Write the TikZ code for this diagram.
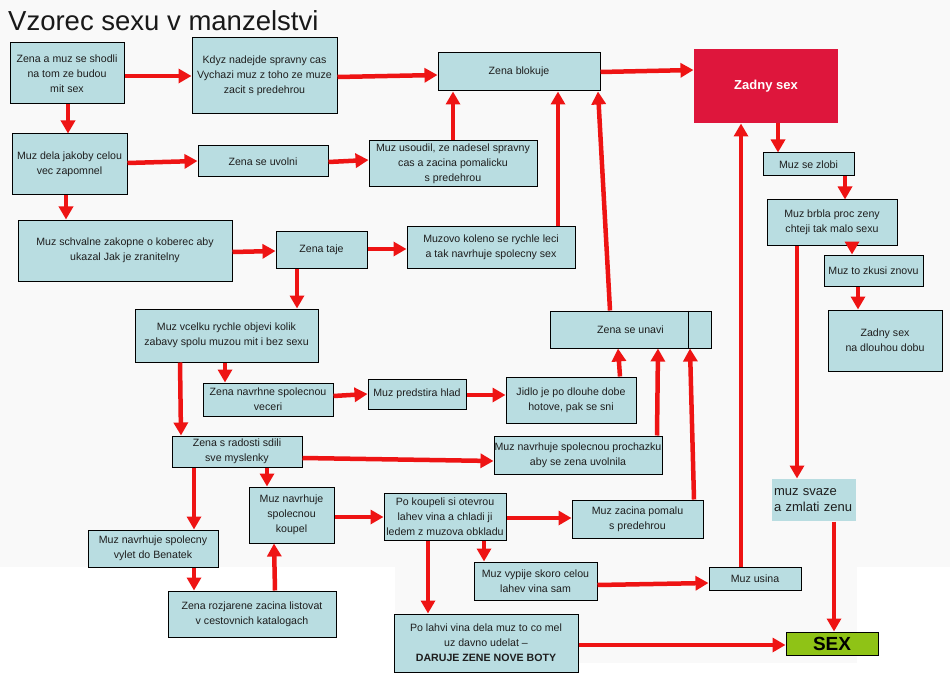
\documentclass[tikz,border=0pt]{standalone}
\usepackage{fontspec}
\setmainfont{Liberation Sans}
\usetikzlibrary{arrows.meta}
\definecolor{boxfill}{RGB}{185,221,225}
\definecolor{arrred}{RGB}{238,20,20}
\definecolor{redbox}{RGB}{222,22,60}
\definecolor{sexgreen}{RGB}{143,195,22}
\definecolor{bgg}{RGB}{249,249,249}
\definecolor{txt}{RGB}{30,30,30}
\tikzset{
  box/.style={draw=black, line width=1pt, fill=boxfill, inner sep=0pt, align=center,
    text=txt, font=\fontsize{10.6}{15}\selectfont},
  arr/.style={draw=arrred, line width=4.5pt, -{Triangle[length=13pt,width=14pt]}},
}
\newcommand\mybox[7][]{\node[box,#1, minimum width={#5-#3}, minimum height={#6-#4}] (#2) at ({(#3+#5)/2},{(#4+#6)/2}) {#7};}
\begin{document}
\begin{tikzpicture}[x=1pt,y=-1pt]
\useasboundingbox (0,0) rectangle (950,679);
\fill[white] (0,0) rectangle (950,679);
\fill[bgg] (0,0) rectangle (950,567);
\fill[bgg] (395,567) rectangle (857,663);
\node[anchor=base west, font=\fontsize{27.5}{30}\selectfont, text=black!90, inner sep=0pt] (title) at (8,31) {Vzorec sexu v manzelstvi};

\mybox{n1}{10}{43}{124}{104}{Zena a muz se shodli\\na tom ze budou\\mit sex}
\mybox{n2}{192}{38}{337}{114}{Kdyz nadejde spravny cas\\Vychazi muz z toho ze muze\\zacit s predehrou}
\mybox{n3}{438}{53}{600}{91}{Zena blokuje}
\mybox[fill=redbox, draw=none, text=white, font=\bfseries\fontsize{13}{15}\selectfont]{n4}{694}{49}{838}{123}{Zadny sex}
\mybox{n5}{12}{134}{127}{195}{Muz dela jakoby celou\\vec zapomnel}
\mybox{n6}{198}{146}{328}{177}{Zena se uvolni}
\mybox{n7}{369}{141}{537}{187}{Muz usoudil, ze nadesel spravny\\cas a zacina pomalicku\\s predehrou}
\mybox{n8}{763}{153}{854}{176}{Muz se zlobi}
\mybox{n9}{767}{200}{897}{245}{Muz brbla proc zeny\\chteji tak malo sexu}
\mybox{n10}{18}{220}{232}{281}{Muz schvalne zakopne o koberec aby\\ukazal Jak je zranitelny}
\mybox{n11}{276}{231}{367}{268}{Zena taje}
\mybox{n12}{407}{226}{575}{268}{Muzovo koleno se rychle leci\\a tak navrhuje spolecny sex}
\mybox{n13}{824}{255}{923}{286}{Muz to zkusi znovu}
\mybox{n14}{828}{310}{942}{371}{Zadny sex\\na dlouhou dobu}
\mybox{n15}{550}{311}{711}{348}{Zena se unavi}
\draw[line width=1pt] (n15.north -| 688,0) -- (n15.south -| 688,0);
\mybox{n16}{135}{309}{318}{362}{Muz vcelku rychle objevi kolik\\zabavy spolu muzou mit i bez sexu}
\mybox{n17}{203}{383}{333}{416}{Zena navrhne spolecnou\\veceri}
\mybox{n18}{368}{379}{466}{409}{Muz predstira hlad}
\mybox{n19}{506}{377}{636}{423}{Jidlo je po dlouhe dobe\\hotove, pak se sni}
\mybox{n20}{172}{436}{302}{467}{Zena s radosti sdili\\sve myslenky}
\mybox{n21}{494}{436}{662}{474}{Muz navrhuje spolecnou prochazku\\aby se zena uvolnila}
\mybox{n22}{249}{487}{334}{543}{Muz navrhuje\\spolecnou\\koupel}
\mybox{n23}{384}{493}{506}{540}{Po koupeli si otevrou\\lahev vina a chladi ji\\ledem z muzova obkladu}
\mybox{n24}{572}{500}{703}{538}{Muz zacina pomalu\\s predehrou}
\mybox[draw=none, align=left, text width=80pt, inner xsep=2pt, font=\fontsize{13}{16}\selectfont]{n25}{772}{479}{856}{521}{muz svaze\\a zmlati zenu}
\mybox{n26}{88}{530}{218}{567}{Muz navrhuje spolecny\\vylet do Benatek}
\mybox{n27}{474}{562}{597}{600}{Muz vypije skoro celou\\lahev vina sam}
\mybox{n28}{709}{567}{801}{590}{Muz usina}
\mybox{n29}{168}{591}{336}{637}{Zena rozjarene zacina listovat\\v cestovnich katalogach}
\mybox{n30}{394}{614}{578}{672}{Po lahvi vina dela muz to co mel\\uz davno udelat –\\\textbf{DARUJE ZENE NOVE BOTY}}
\mybox[fill=sexgreen, text=black, font=\bfseries\fontsize{19}{20}\selectfont]{n31}{786}{632}{878}{655}{SEX}

\draw[arr] (n1.east |- 0,76) -- (n2.west |- 0,76);
\draw[arr] (n1.south -| 68,0) -- (n5.north -| 68,0);
\draw[arr] (n2.east |- 0,77) -- (n3.west |- 0,75);
\draw[arr] (n3.east |- 0,72) -- (n4.west |- 0,70);
\draw[arr] (n5.east |- 0,163) -- (n6.west |- 0,161);
\draw[arr] (n5.south -| 66,0) -- (n10.north -| 66,0);
\draw[arr] (n6.east |- 0,162) -- (n7.west |- 0,160);
\draw[arr] (n7.north -| 453,0) -- (n3.south -| 453,0);
\draw[arr] (n10.east |- 0,252) -- (n11.west |- 0,251);
\draw[arr] (n11.east |- 0,249) -- (n12.west |- 0,249);
\draw[arr] (n11.south -| 297,0) -- (n16.north -| 297,0);
\draw[arr] (n12.north -| 558,0) -- (n3.south -| 558,0);
\draw[arr] (n15.north -| 610,0) -- (n3.south -| 598,0);
\draw[arr] (n28.north -| 741,0) -- (n4.south -| 741,0);
\draw[arr] (n4.south -| 778,0) -- (n8.north -| 778,0);
\draw[arr] (n8.south -| 845,0) -- (n9.north -| 845,0);
\draw[arr] (n9.south -| 852,0) -- (n13.north -| 852,0);
\draw[arr] (n13.south -| 858,0) -- (n14.north -| 858,0);
\draw[arr] (n9.south -| 797,0) -- (n25.north -| 797,0);
\draw[arr] (n25.south -| 834,0) -- (n31.north -| 834,0);
\draw[arr] (n16.south -| 180,0) -- (n20.north -| 181,0);
\draw[arr] (n16.south -| 225,0) -- (n17.north -| 225,0);
\draw[arr] (n17.east |- 0,396) -- (n18.west |- 0,394);
\draw[arr] (n18.east |- 0,395) -- (n19.west |- 0,395);
\draw[arr] (n19.north -| 620,0) -- (n15.south -| 618,0);
\draw[arr] (n21.north -| 657,0) -- (n15.south -| 658,0);
\draw[arr] (n24.north -| 694,0) -- (n15.south -| 690,0);
\draw[arr] (n20.east |- 0,458) -- (n21.west |- 0,461);
\draw[arr] (n20.south -| 267,0) -- (n22.north -| 267,0);
\draw[arr] (n20.south -| 194,0) -- (n26.north -| 194,0);
\draw[arr] (n26.south -| 194,0) -- (n29.north -| 194,0);
\draw[arr] (n29.north -| 275,0) -- (n22.south -| 274,0);
\draw[arr] (n22.east |- 0,517) -- (n23.west |- 0,517);
\draw[arr] (n23.east |- 0,518) -- (n24.west |- 0,518);
\draw[arr] (n23.south -| 484,0) -- (n27.north -| 484,0);
\draw[arr] (n23.south -| 428,0) -- (n30.north -| 428,0);
\draw[arr] (n27.east |- 0,585) -- (n28.west |- 0,583);
\draw[arr] (n30.east |- 0,645) -- (n31.west |- 0,645);
\end{tikzpicture}
\end{document}
